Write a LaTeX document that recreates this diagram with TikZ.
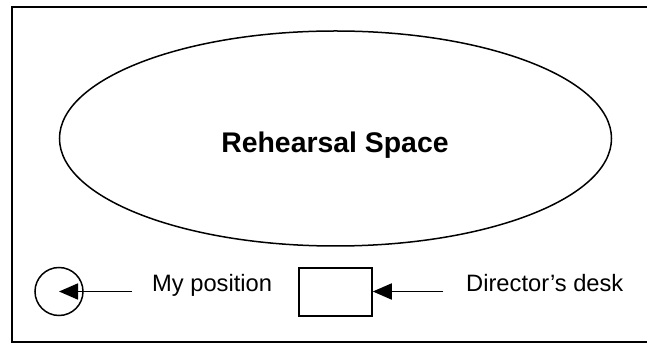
\documentclass[tikz,border=0pt]{standalone}
\usepackage{fontspec}
\setmainfont{Liberation Sans}
\usetikzlibrary{shapes.geometric,arrows.meta}
\tikzset{
  ink/.style={line width=1.5pt, draw=black},
  pointer/.style={line width=1.8pt, -{Triangle[length=19pt,width=16pt]}},
  caption/.style={font=\fontsize{23.7}{28}\selectfont, inner sep=0pt, anchor=base west},
}
\begin{document}
\begin{tikzpicture}[x=1pt,y=-1pt]
  \useasboundingbox (0,0) rectangle (647,344);
  \clip (0,0) rectangle (647,344);
  \fill[white] (0,0) rectangle (647,344);
  % room outline
  \draw[ink] (12,7) rectangle (660,342);
  % rehearsal area
  \node (space) [ink, ellipse, minimum width=552pt, minimum height=215pt, inner sep=0pt] at (335.5,138.5) {};
  \node (spacelabel) [font=\bfseries\fontsize{28.4}{32}\selectfont, inner sep=0pt, anchor=base] at (335,153) {Rehearsal Space};
  % my position
  \node (me) [ink, circle, minimum size=48pt, inner sep=0pt] at (59,291.5) {};
  \coordinate (meend) at (132,291.5);
  \node (melabel) [caption] at (152,291) {My position};
  \draw[pointer] (meend) -- (me.center);
  % director's desk
  \node (desk) [ink, rectangle, minimum width=73pt, minimum height=48pt, inner sep=0pt] at (335.5,292) {};
  \coordinate (deskend) at (443,291.5);
  \node (desklabel) [caption] at (466,291) {Director’s desk};
  \draw[pointer] (deskend) -- (desk.east |- deskend);
\end{tikzpicture}
\end{document}
